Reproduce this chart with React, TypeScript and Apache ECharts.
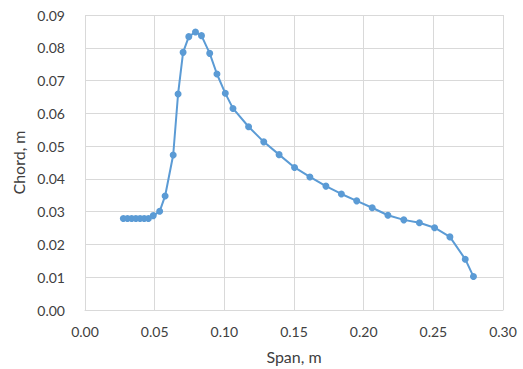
import React, { useEffect, useRef } from "react";
import * as echarts from "echarts";

const spanValues = [
  0.0275, 0.0305, 0.0335, 0.0365, 0.0395, 0.0425, 0.0455, 0.049, 0.0536, 0.0575,
  0.0633, 0.0668, 0.0704, 0.0745, 0.0793, 0.0836, 0.0895, 0.0947, 0.1007, 0.1062,
  0.1174, 0.1283, 0.1393, 0.1504, 0.1614, 0.1729, 0.184, 0.195, 0.2061, 0.2174,
  0.2288, 0.24, 0.2509, 0.2619, 0.2729, 0.2788,
];
const chordValues = [
  0.0279, 0.0279, 0.0279, 0.0279, 0.0279, 0.0279, 0.0279, 0.0288, 0.0301, 0.0348,
  0.0473, 0.0659, 0.0786, 0.0834, 0.0848, 0.0837, 0.0783, 0.072, 0.0661, 0.0615,
  0.0559, 0.0513, 0.0474, 0.0435, 0.0406, 0.0378, 0.0354, 0.0333, 0.0312, 0.0289,
  0.0275, 0.0266, 0.0251, 0.0223, 0.0155, 0.0102,
];
const xTitle = "Span, m";
const yTitle = "Chord, m";

export default function App() {
  const ref = useRef<HTMLDivElement>(null);
  useEffect(() => {
    if (!ref.current) return;
    const chart = echarts.init(ref.current, null, { renderer: "svg" });
    const font = "Lato, 'Open Sans', sans-serif";
    chart.setOption({
      animation: false,
      backgroundColor: "#ffffff",
      grid: { left: 85, right: 20, top: 15, bottom: 59 },
      xAxis: {
        type: "value",
        min: 0,
        max: 0.3,
        interval: 0.05,
        name: xTitle,
        nameLocation: "middle",
        nameGap: 38,
        nameTextStyle: { color: "#404040", fontSize: 16, fontFamily: font },
        axisLine: { show: true, lineStyle: { color: "#d9d9d9" } },
        axisTick: { show: false },
        axisLabel: {
          color: "#404040",
          fontSize: 14,
          fontFamily: font,
          margin: 14,
          formatter: (v: number) => v.toFixed(2),
        },
        splitLine: { show: true, lineStyle: { color: "#d9d9d9" } },
      },
      yAxis: {
        type: "value",
        min: 0,
        max: 0.09,
        interval: 0.01,
        name: yTitle,
        nameLocation: "middle",
        nameGap: 52,
        nameTextStyle: { color: "#404040", fontSize: 16, fontFamily: font },
        axisLine: { show: false },
        axisTick: { show: false },
        axisLabel: {
          color: "#404040",
          fontSize: 14,
          fontFamily: font,
          margin: 20,
          formatter: (v: number) => v.toFixed(2),
        },
        splitLine: { show: true, lineStyle: { color: "#d9d9d9" } },
      },
      series: [
        {
          type: "line",
          data: spanValues.map((x, i) => [x, chordValues[i]]),
          symbol: "circle",
          symbolSize: 7,
          showAllSymbol: true,
          lineStyle: { color: "#5b9bd5", width: 2 },
          itemStyle: { color: "#5b9bd5" },
        },
      ],
    });
    return () => chart.dispose();
  }, []);
  return (
    <div
      ref={ref}
      style={{ position: "fixed", left: 0, top: 0, width: 523, height: 369 }}
    />
  );
}
